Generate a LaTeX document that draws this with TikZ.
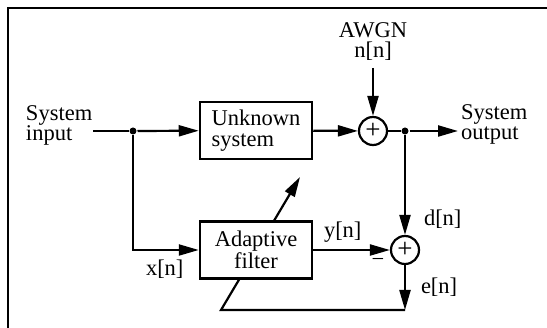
\documentclass[tikz,border=0pt]{standalone}
\usepackage{fontspec}
\setmainfont{Liberation Serif}
\usetikzlibrary{arrows.meta}
\pgfdeclarelayer{bg}
\pgfsetlayers{bg,main}
\begin{document}
\begin{tikzpicture}[x=1pt,y=-1pt, line width=2pt,
  font=\fontsize{22.5}{20.5}\selectfont,
  >={Triangle[length=20pt,width=11pt]},
  wire/.style={line width=2.2pt},
  blk/.style={draw, line width=2.5pt, fill=white, minimum width=112pt, minimum height=57pt, inner sep=0pt},
  sumc/.style={draw, circle, line width=2.2pt, minimum size=28pt, inner sep=0pt, fill=white, font=\fontsize{27}{27}\selectfont},
  dot/.style={circle, fill, inner sep=0pt, minimum size=7pt},
  lbl/.style={inner sep=0pt}]
\useasboundingbox (0,0) rectangle (547,328);
\draw[line width=2.5pt] (8,328) -- (8,8) -- (547,8);

\node[lbl, anchor=base west, align=left] (in) at (25,141) {System\\input};
\coordinate (inS) at (93,131);
\node[dot] (j1) at (133,131) {};
\node[blk, align=left] (unk) at (256,130.5) {Unknown\\system};
\node[sumc] (s1) at (373,131) {+};
\node[lbl, align=center, anchor=base] (awgn) at (373,58) {AWGN\\n[n]};
\coordinate (nS) at (373,68);
\node[dot] (j2) at (405,131) {};
\node[lbl, anchor=base west, align=left] (out) at (460,140) {System\\output};
\coordinate (outE) at (458,131);
\node[blk, align=center] (ada) at (256,250) {Adaptive\\filter};
\node[sumc] (s2) at (405,250) {+};
\coordinate (eE) at (405,310);
\coordinate (fb) at (221,310);
\coordinate (tip) at (300,177);

\node[lbl, anchor=base west] (xl) at (145,276) {x[n]};
\node[lbl, anchor=base west] (yl) at (323,238) {y[n]};
\node[lbl, anchor=base west] (dl) at (423,226) {d[n]};
\node[lbl, anchor=base west] (el) at (420,294) {e[n]};
\node[lbl] (minus) at (378,262) {−};

\draw[wire] (inS) -- (j1);
\draw[wire,->] (j1) -- (unk);
\draw[wire,->] (unk) -- (s1);
\draw[wire,->] (nS) -- (s1);
\draw[wire] (s1) -- (j2);
\draw[wire,->] (j2) -- (outE);
\draw[wire,->] (j2) -- (s2);
\draw[wire,->] (j1) |- (ada.west);
\draw[wire,->] (ada) -- (s2);
\draw[wire,->] (s2) -- (eE);
\begin{pgfonlayer}{bg}
\draw[wire,->,>={Triangle[length=20pt,width=11pt]}] (eE) -- (fb) -- (tip);
\end{pgfonlayer}
\end{tikzpicture}
\end{document}
